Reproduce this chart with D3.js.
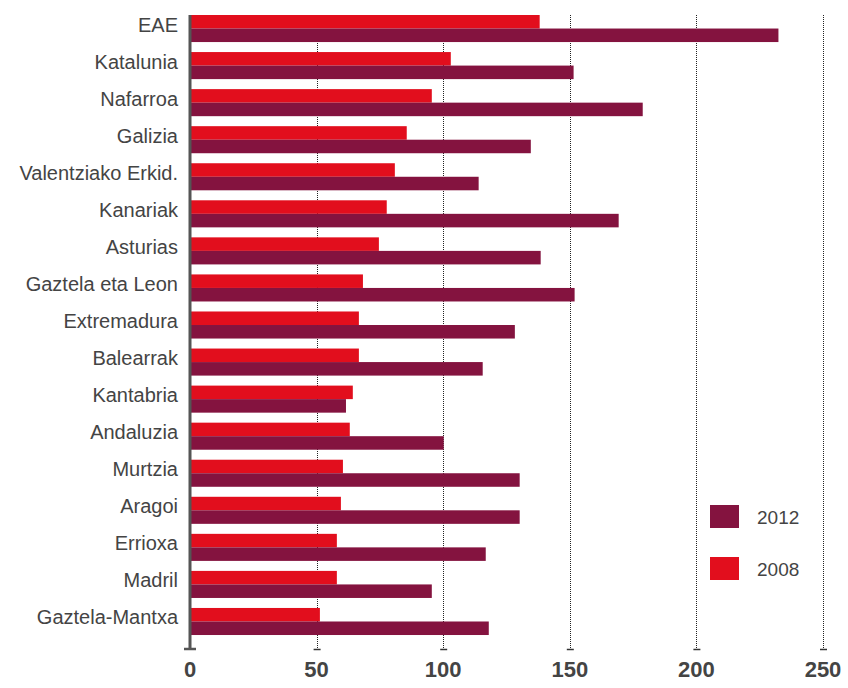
<!DOCTYPE html>
<html>
<head>
  <meta charset="utf-8">
  <title>EAE eta erkidegoak</title>
  <script src="https://d3js.org/d3.v7.min.js"></script>
  <style>
    body { margin: 0; background: #fff; }
    text { font-family: "Liberation Sans", Arial, sans-serif; fill: #444; }
  </style>
</head>
<body>
  <svg id="chart"></svg>

  <script>
    // data
    const regions = ["EAE", "Katalunia", "Nafarroa", "Galizia", "Valentziako Erkid.",
      "Kanariak", "Asturias", "Gaztela eta Leon", "Extremadura", "Balearrak",
      "Kantabria", "Andaluzia", "Murtzia", "Aragoi", "Errioxa", "Madril", "Gaztela-Mantxa"];
    const values2008 = [138.1, 103.0, 95.5, 85.6, 80.9, 77.7, 74.6, 68.3, 66.7, 66.7,
      64.3, 63.1, 60.4, 59.6, 58.0, 58.0, 51.3];
    const values2012 = [232.4, 151.5, 178.8, 134.6, 114.0, 169.3, 138.5, 151.9, 128.3, 115.6,
      61.6, 100.2, 130.2, 130.2, 116.8, 95.5, 118.0];
    const xTicks = [0, 50, 100, 150, 200, 250];
    const years = ["2012", "2008"];

    const colors = { "2008": "#e20e1d", "2012": "#84133f" };

    const width = 848, height = 688;
    const plotLeft = 190, plotRight = 823, plotTop = 15, plotBottom = 649;

    const svg = d3.select("#chart")
      .attr("width", width)
      .attr("height", height);

    const x = d3.scaleLinear().domain([0, 250]).range([plotLeft, plotRight]);

    // rows: band holds both bars, gap below
    const y = d3.scaleBand()
      .domain(regions)
      .range([plotTop, plotTop + 17 * 37.06 - 10])
      .paddingInner(0.27)
      .paddingOuter(0);

    const y2 = d3.scaleBand()
      .domain(["2008", "2012"])
      .range([0, y.bandwidth()]);

    // dotted gridlines
    svg.append("g")
      .selectAll("line")
      .data(xTicks.slice(1))
      .enter()
      .append("line")
      .attr("x1", d => Math.round(x(d)) + 0.5)
      .attr("x2", d => Math.round(x(d)) + 0.5)
      .attr("y1", plotTop)
      .attr("y2", plotBottom)
      .attr("stroke", "#222")
      .attr("stroke-width", 1)
      .attr("stroke-dasharray", "1,1");

    // little tick dashes at the bottom
    svg.append("g")
      .selectAll("line")
      .data(xTicks.slice(1))
      .enter()
      .append("line")
      .attr("x1", d => x(d) - 3)
      .attr("x2", d => x(d) + 4)
      .attr("y1", plotBottom + 0.5)
      .attr("y2", plotBottom + 0.5)
      .attr("stroke", "#333")
      .attr("stroke-width", 1.5);

    // bars
    const rows = regions.map((r, i) => ({ region: r, "2008": values2008[i], "2012": values2012[i] }));

    const g = svg.append("g")
      .selectAll("g")
      .data(rows)
      .enter()
      .append("g")
      .attr("transform", d => `translate(0, ${y(d.region)})`);

    g.selectAll("rect")
      .data(d => ["2008", "2012"].map(k => ({ key: k, value: d[k] })))
      .enter()
      .append("rect")
      .attr("x", x(0))
      .attr("y", d => y2(d.key))
      .attr("width", d => x(d.value) - x(0))
      .attr("height", y2.bandwidth())
      .attr("fill", d => colors[d.key]);

    // category labels
    svg.append("g")
      .selectAll("text")
      .data(regions)
      .enter()
      .append("text")
      .attr("x", 178)
      .attr("y", d => y(d) + y.bandwidth() / 2 - 4)
      .attr("dy", "0.35em")
      .attr("text-anchor", "end")
      .style("font-size", "20px")
      .text(d => d);

    // vertical axis line with foot
    svg.append("line")
      .attr("x1", plotLeft).attr("x2", plotLeft)
      .attr("y1", plotTop).attr("y2", plotBottom + 1)
      .attr("stroke", "#555")
      .attr("stroke-width", 3);
    svg.append("line")
      .attr("x1", plotLeft - 6).attr("x2", plotLeft + 6)
      .attr("y1", plotBottom).attr("y2", plotBottom)
      .attr("stroke", "#555")
      .attr("stroke-width", 2.5);

    // x tick labels
    svg.append("g")
      .selectAll("text")
      .data(xTicks)
      .enter()
      .append("text")
      .attr("x", d => x(d))
      .attr("y", 677)
      .attr("text-anchor", "middle")
      .style("font-size", "22px")
      .style("font-weight", "bold")
      .text(d => d);

    // legend
    const legend = svg.append("g")
      .selectAll("g")
      .data(years)
      .enter()
      .append("g")
      .attr("transform", (d, i) => `translate(710, ${505 + i * 52})`);

    legend.append("rect")
      .attr("width", 29)
      .attr("height", 23)
      .attr("fill", d => colors[d]);

    legend.append("text")
      .attr("x", 47)
      .attr("y", 19)
      .style("font-size", "19px")
      .text(d => d);
  </script>
</body>
</html>
